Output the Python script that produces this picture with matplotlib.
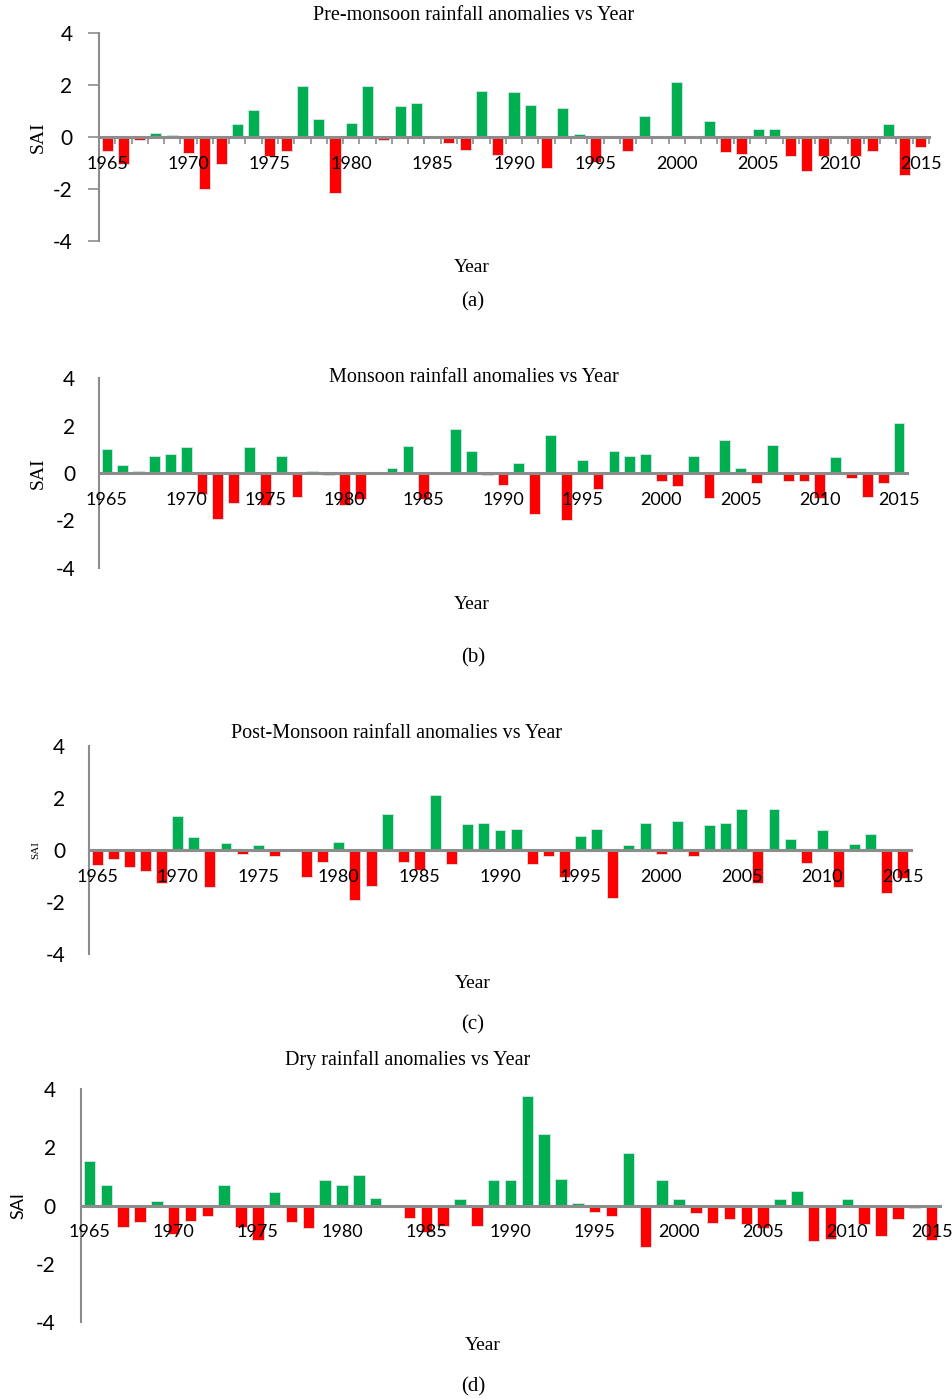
import numpy as np
import matplotlib
matplotlib.use('Agg')
import matplotlib.pyplot as plt

plt.rcParams['axes.unicode_minus'] = False

years = list(range(1965, 2016))

pre_monsoon = [-0.55, -1.03, -0.13, 0.17, 0.06, -0.63, -2.0, -1.05, 0.51, 1.05,
               -0.74, -0.54, 1.98, 0.7, -2.14, 0.55, 1.98, -0.13, 1.18, 1.32,
               0.02, -0.22, -0.51, 1.78, -0.68, 1.74, 1.25, -1.2, 1.12, 0.13,
               -0.95, 0.03, -0.55, 0.8, 0.0, 2.12, 0.0, 0.6, -0.58, -0.67,
               0.29, 0.32, -0.73, -1.29, -0.74, -0.02, -0.74, -0.53, 0.51, -1.45,
               -0.37]

monsoon = [1.0, 0.34, 0.1, 0.73, 0.8, 1.08, -0.9, -1.94, -1.28, 1.08,
           -1.35, 0.73, -1.01, 0.1, -0.08, -1.35, -1.11, 0.04, 0.2, 1.13,
           -1.11, 0.0, 1.86, 0.94, -0.08, -0.5, 0.41, -1.73, 1.59, -1.99,
           0.56, -0.66, 0.93, 0.73, 0.79, -0.34, -0.55, 0.73, -1.06, 1.38,
           0.2, -0.44, 1.18, -0.34, -0.34, -1.04, 0.68, -0.21, -1.03, -0.44,
           2.1]

post_monsoon = [-0.59, -0.36, -0.67, -0.82, -1.28, 1.32, 0.49, -1.44, 0.28, -0.14,
                0.18, -0.22, 0.0, -1.05, -0.45, 0.32, -1.94, -1.4, 1.4, -0.47,
                -0.76, 2.1, -0.55, 1.01, 1.05, 0.77, 0.79, -0.55, -0.24, -1.04,
                0.53, 0.79, -1.86, 0.2, 1.05, -0.17, 1.1, -0.24, 0.97, 1.05,
                1.59, -1.27, 1.59, 0.44, -0.49, 0.77, -1.44, 0.24, 0.63, -1.67,
                -1.09]

dry = [1.54, 0.69, -0.74, -0.57, 0.14, -0.98, -0.54, -0.37, 0.72, -0.74,
       -1.17, 0.48, -0.57, -0.78, 0.89, 0.72, 1.04, 0.27, 0.0, -0.43,
       -0.92, -0.71, 0.24, -0.71, 0.86, 0.87, 3.75, 2.44, 0.9, 0.1,
       -0.23, -0.37, 1.8, -1.41, 0.89, 0.23, -0.26, -0.61, -0.45, -0.65,
       -0.77, 0.21, 0.51, -1.22, -1.14, 0.21, -0.65, -1.05, -0.48, -0.09,
       -1.19]

titles = ['Pre-monsoon rainfall anomalies vs Year',
          'Monsoon rainfall anomalies vs Year',
          'Post-Monsoon rainfall anomalies vs Year',
          'Dry rainfall anomalies vs Year']
labels = ['(a)', '(b)', '(c)', '(d)']

W, H = 953, 1399
fig = plt.figure(figsize=(W / 100, H / 100), dpi=100)

GREEN = '#00B050'
RED = '#FF0000'
GREY = '#8c8c8c'
serif = 'Liberation Serif'
sans = 'Lato'

# pixel layout: axes box (left, right, top, bottom), title xy, Year xy, label y,
# SAI x, SAI size, SAI family, y-label pad (pt), ticks shown
panels = [
    ((99, 929, 33, 241), (474, 16), (472, 267), 302, 38, 14, serif, 11, True),
    ((99, 907, 378, 568), (474, 377), (472, 605), 658, 38, 14, serif, 17, False),
    ((89, 911, 746, 954), (397, 733), (473, 983), 1025, 36, 8, serif, 17, False),
    ((81, 940, 1089, 1322), (408, 1060), (483, 1345), 1387, 18, 13, sans, 18, False),
]
series = [pre_monsoon, monsoon, post_monsoon, dry]

x = np.arange(len(years))
for vals, title, lab, cfg in zip(series, titles, labels, panels):
    (l, r, t, b), tpos, ypos, lpos, saix, saisz, saifam, ypad, ticks = cfg
    ax = fig.add_axes([l / W, 1 - b / H, (r - l) / W, (b - t) / H])
    ax.set_axisbelow(False)
    vals = np.array(vals)
    colors = [GREEN if v >= 0 else RED for v in vals]
    ax.bar(x, vals, width=0.68, color=colors, edgecolor='#d6e4f0', linewidth=0.6, zorder=2)
    ax.set_xlim(-0.5, len(years) - 0.5)
    ax.set_ylim(-4, 4)
    ax.set_yticks([-4, -2, 0, 2, 4])
    ax.tick_params(axis='y', labelsize=15, colors='black', pad=ypad,
                   length=8 if ticks else 0, color=GREY, width=1.2)
    for s in ['top', 'right']:
        ax.spines[s].set_visible(False)
    ax.spines['left'].set_color(GREY)
    ax.spines['left'].set_linewidth(1.5)
    ax.spines['bottom'].set_position(('data', 0))
    ax.spines['bottom'].set_color(GREY)
    ax.spines['bottom'].set_linewidth(2.2)
    ax.spines['bottom'].set_zorder(3)
    # boundary ticks between years
    ax.set_xticks(np.arange(-0.5, len(years), 1.0))
    ax.set_xticklabels([])
    ax.tick_params(axis='x', which='major', length=5 if ticks else 0, color=GREY, width=1.2)
    # year labels every 5 years
    lab_idx = [i for i, yv in enumerate(years) if yv % 5 == 0]
    ax.set_xticks(lab_idx, minor=True)
    ax.set_xticklabels([str(years[i]) for i in lab_idx], minor=True)
    ax.tick_params(axis='x', which='minor', length=0, labelsize=13, pad=13.5)
    for tl in ax.get_xticklabels(minor=True) + ax.get_yticklabels():
        tl.set_family(sans)
        tl.set_zorder(4)

    fig.text(tpos[0] / W, 1 - tpos[1] / H, title, family=serif, fontsize=14.5,
             ha='center', va='center')
    fig.text(ypos[0] / W, 1 - ypos[1] / H, 'Year', family=serif, fontsize=14,
             ha='center', va='center')
    fig.text(473 / W, 1 - lpos / H, lab, family=serif, fontsize=15, ha='center', va='center')
    fig.text(saix / W, 1 - ((t + b) / 2) / H, 'SAI', family=saifam, fontsize=saisz,
             rotation=90, ha='center', va='center')

fig.savefig('out.png', dpi=100)
